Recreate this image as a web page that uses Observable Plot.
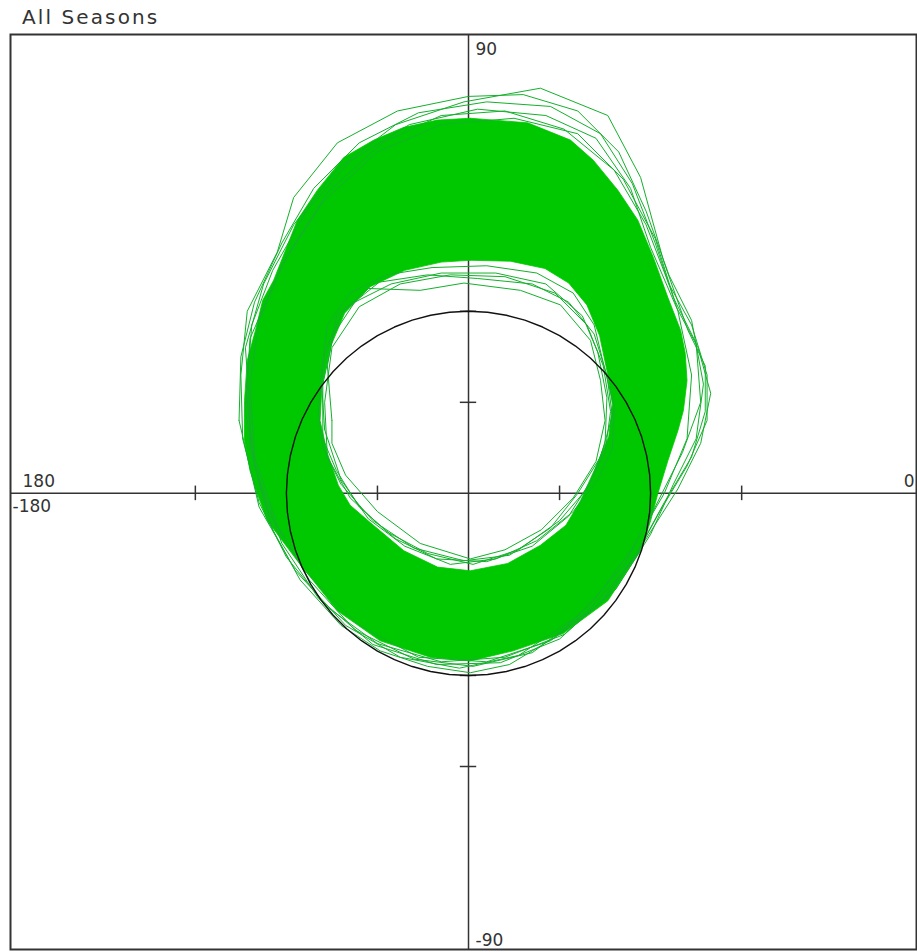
<!DOCTYPE html>
<html>
<head>
<meta charset="utf-8">
<script src="https://cdn.jsdelivr.net/npm/d3@7"></script>
<script src="https://cdn.jsdelivr.net/npm/@observablehq/plot@0.6"></script>
<style>
  html, body { margin: 0; padding: 0; background: #fff; overflow: hidden; }
  #title { position: relative; height: 30px; }
  #title span { position: absolute; left: 22px; top: 5px; font-family: "DejaVu Sans", sans-serif; font-size: 20px; letter-spacing: 2.1px; color: #333; white-space: nowrap; }
</style>
</head>
<body>
<div id="title"><span>All Seasons</span></div>
<div id="chart"></div>
<script>
// ---- Data (units: one axis tick = 1) ----
const xDomain = [-5.03, 4.92];
const yDomain = [-5.01, 5.04];
const tickValues = [-3, -2, -1, 1, 2, 3];
const refCircleRadius = 2;

const topLabels = ["90", "-90"];
const leftLabels = ["180", "-180"];
const rightLabels = ["0"];

// Outer edge of the dense green band (clockwise from top)
const outerEdge = [
  [0.02,4.12],[0.65,4.07],[1.12,3.88],[1.37,3.66],[1.64,3.33],[1.86,3.00],[2.03,2.59],[2.19,2.15],
  [2.33,1.79],[2.38,1.54],[2.40,1.24],[2.36,0.91],[2.30,0.69],[2.19,0.36],[2.08,0.00],[2.00,-0.30],
  [1.89,-0.63],[1.53,-1.18],[1.04,-1.54],[0.49,-1.73],[0.02,-1.84],[-0.42,-1.80],[-0.97,-1.62],
  [-1.44,-1.29],[-1.88,-0.74],[-2.21,-0.30],[-2.32,0.00],[-2.40,0.25],[-2.46,0.58],[-2.46,1.02],
  [-2.43,1.46],[-2.34,1.79],[-2.26,2.12],[-2.14,2.34],[-2.01,2.67],[-1.88,3.00],[-1.66,3.33],
  [-1.37,3.69],[-1.04,3.88],[-0.71,4.02],[-0.34,4.10]
];
// Inner edge (hole) of the dense green band (clockwise from top)
const innerEdge = [
  [0.02,2.56],[0.46,2.55],[0.84,2.47],[1.10,2.31],[1.30,2.07],[1.44,1.73],[1.52,1.35],[1.58,0.98],
  [1.54,0.62],[1.38,0.25],[1.23,-0.08],[1.07,-0.35],[0.79,-0.57],[0.43,-0.77],[0.02,-0.85],
  [-0.34,-0.81],[-0.71,-0.63],[-1.08,-0.32],[-1.30,-0.13],[-1.43,0.09],[-1.55,0.44],[-1.63,0.80],
  [-1.61,1.16],[-1.52,1.60],[-1.36,1.98],[-1.08,2.27],[-0.70,2.45],[-0.30,2.54]
];

// Individual stray trajectories visible at the fringes
const loop1 = [[-2.40,0.90],[-2.45,1.60],[-2.25,2.30],[-1.92,2.95],[-1.45,3.55],[-0.80,4.05],[-0.05,4.30],[0.79,4.45],[1.53,4.15],[1.89,3.47],[2.14,2.56],[2.41,1.79],[2.60,1.40],[2.60,0.90],[2.45,0.40],[2.15,-0.10],[1.85,-0.65],[1.45,-1.20],[0.90,-1.62],[0.20,-1.85],[-0.55,-1.80],[-1.20,-1.45],[-1.80,-0.85],[-2.20,-0.20],[-2.40,0.50]];
const loop2 = [[-2.48,0.60],[-2.50,1.30],[-2.43,2.00],[-2.10,2.65],[-1.92,3.25],[-1.44,3.85],[-0.78,4.20],[0.00,4.36],[0.60,4.38],[1.20,4.20],[1.65,3.75],[1.95,3.10],[2.20,2.40],[2.45,1.90],[2.58,1.20],[2.50,0.60],[2.25,0.10],[2.00,-0.45],[1.62,-1.05],[1.05,-1.55],[0.40,-1.80],[-0.30,-1.85],[-1.00,-1.65],[-1.55,-1.25],[-2.00,-0.70],[-2.30,-0.10]];
const loop3 = [[-2.30,0.10],[-2.45,0.90],[-2.40,1.70],[-2.05,2.50],[-1.60,3.20],[-1.00,3.75],[-0.30,4.05],[0.50,4.12],[1.20,3.95],[1.70,3.45],[2.05,2.80],[2.30,2.00],[2.45,1.30],[2.40,0.60],[2.15,0.00],[1.80,-0.60],[1.40,-1.15],[0.95,-1.58],[0.45,-1.88],[0.02,-1.97],[-0.45,-1.90],[-0.97,-1.73],[-1.40,-1.45],[-1.85,-0.95],[-2.15,-0.40]];
const loop4 = [[-2.35,0.40],[-2.40,1.20],[-2.30,1.90],[-2.00,2.60],[-1.55,3.30],[-0.95,3.85],[-0.30,4.15],[0.40,4.20],[1.05,4.00],[1.60,3.55],[1.95,2.95],[2.20,2.30],[2.45,1.85],[2.62,1.30],[2.62,0.80],[2.40,0.30],[2.10,-0.20],[1.80,-0.75],[1.30,-1.30],[0.70,-1.75],[0.05,-1.90],[-0.60,-1.82],[-1.25,-1.50],[-1.75,-0.95],[-2.10,-0.35]];
const loop5 = [[-1.50,0.80],[-1.55,1.40],[-1.45,1.95],[-1.10,2.25],[-0.53,2.23],[-0.05,2.31],[0.57,2.23],[1.01,2.07],[1.34,1.68],[1.45,1.24],[1.50,0.80],[1.40,0.35],[1.15,-0.05],[0.80,-0.40],[0.40,-0.62],[0.02,-0.72],[-0.53,-0.55],[-1.00,-0.20],[-1.35,0.20],[-1.50,0.55]];
const loop6 = [[-1.60,0.60],[-1.60,1.20],[-1.48,1.75],[-1.25,2.10],[-0.85,2.30],[-0.30,2.42],[0.30,2.42],[0.85,2.30],[1.25,1.95],[1.42,1.55],[1.52,1.05],[1.50,0.55],[1.35,0.15],[1.10,-0.25],[0.70,-0.58],[0.20,-0.75],[-0.35,-0.72],[-0.80,-0.50],[-1.20,-0.15],[-1.45,0.25]];
const loop7 = [[-1.55,0.40],[-1.58,1.00],[-1.50,1.60],[-1.20,2.05],[-0.75,2.30],[-0.20,2.40],[0.40,2.38],[0.95,2.20],[1.30,1.85],[1.48,1.40],[1.56,0.90],[1.50,0.45],[1.30,0.05],[1.00,-0.30],[0.55,-0.62],[0.05,-0.78],[-0.45,-0.66],[-0.90,-0.42],[-1.30,-0.05]];
const loop8 = [[-2.52,0.80],[-2.50,1.50],[-2.35,2.10],[-2.05,2.75],[-1.70,3.35],[-1.20,3.85],[-0.55,4.18],[0.20,4.30],[0.90,4.25],[1.45,3.95],[1.80,3.40],[2.05,2.75],[2.25,2.15],[2.50,1.65],[2.55,1.00],[2.35,0.45],[2.05,-0.15],[1.70,-0.80],[1.20,-1.35],[0.55,-1.78],[-0.10,-1.92],[-0.75,-1.80],[-1.35,-1.45],[-1.90,-0.85],[-2.30,-0.15]];
const loop9 = [[-2.44,1.10],[-2.38,1.85],[-2.15,2.45],[-1.78,3.10],[-1.30,3.65],[-0.65,4.05],[0.10,4.22],[0.85,4.15],[1.40,3.90],[1.78,3.35],[2.00,2.70],[2.28,2.05],[2.52,1.60],[2.66,1.10],[2.55,0.55],[2.30,0.05],[1.95,-0.50],[1.55,-1.10],[1.00,-1.60],[0.35,-1.86],[-0.35,-1.88],[-1.05,-1.66],[-1.65,-1.15],[-2.05,-0.55],[-2.35,0.30]];
const loop10 = [[-1.65,0.90],[-1.58,1.55],[-1.38,2.00],[-0.98,2.32],[-0.45,2.40],[0.10,2.36],[0.70,2.30],[1.10,2.10],[1.38,1.75],[1.52,1.30],[1.58,0.85],[1.45,0.40],[1.20,0.00],[0.90,-0.38],[0.45,-0.68],[-0.05,-0.74],[-0.60,-0.60],[-1.05,-0.30],[-1.40,0.10],[-1.60,0.50]];
const loop11 = [[-1.58,0.70],[-1.62,1.30],[-1.55,1.85],[-1.30,2.20],[-0.90,2.40],[-0.40,2.48],[0.20,2.50],[0.75,2.42],[1.15,2.20],[1.38,1.85],[1.50,1.35],[1.60,0.95],[1.58,0.50],[1.42,0.15],[1.15,-0.20],[0.75,-0.52],[0.30,-0.72],[-0.20,-0.78],[-0.70,-0.58],[-1.10,-0.28],[-1.40,0.15]];
const strayLoops = [loop1, loop2, loop3, loop4, loop5, loop6, loop7, loop8, loop9, loop10, loop11];

// ---- Derived tables ----
const bandPath = [
  ...outerEdge, outerEdge[0],
  innerEdge[0], ...innerEdge.slice(1).reverse(), innerEdge[0]
].map(([x, y]) => ({x, y}));
const strayRows = strayLoops.flatMap((pts, i) => pts.concat([pts[0]]).map(([x, y]) => ({x, y, id: i})));
const circleRows = d3.range(0, 361, 6).map(a => ({
  x: refCircleRadius * Math.cos(a * Math.PI / 180),
  y: refCircleRadius * Math.sin(a * Math.PI / 180)
}));

const labelFont = {fontFamily: "DejaVu Sans, sans-serif", fontSize: 17, fill: "#333", style: "letter-spacing:2.3px"};
const axisColor = "#333";
const green = "#00c800";

const chart = Plot.plot({
  width: 917,
  height: 922,
  marginLeft: 10,
  marginRight: 1,
  marginTop: 4,
  marginBottom: 3,
  x: {domain: xDomain, axis: null},
  y: {domain: yDomain, axis: null},
  marks: [
    Plot.ruleY([0], {stroke: axisColor, strokeWidth: 1.5}),
    Plot.ruleX([0], {stroke: axisColor, strokeWidth: 1.5}),
    Plot.ruleX(tickValues, {x: d => d, y1: -0.08, y2: 0.08, stroke: axisColor, strokeWidth: 1.5}),
    Plot.ruleY(tickValues, {y: d => d, x1: -0.09, x2: 0.09, stroke: axisColor, strokeWidth: 1.5}),
    Plot.line(bandPath, {x: "x", y: "y", fill: green, stroke: green, strokeWidth: 0.8}),
    Plot.line(strayRows, {x: "x", y: "y", z: "id", stroke: "#14b02c", strokeWidth: 1}),
    Plot.line(circleRows, {x: "x", y: "y", stroke: "#111", strokeWidth: 1.4}),
    Plot.frame({stroke: axisColor, strokeWidth: 2}),
    Plot.text([topLabels[0]], {x: 0, y: yDomain[1], text: d => d, textAnchor: "start", dx: 7, dy: 15, ...labelFont}),
    Plot.text([topLabels[1]], {x: 0, y: yDomain[0], text: d => d, textAnchor: "start", dx: 7, dy: -9, ...labelFont}),
    Plot.text([leftLabels[0]], {x: xDomain[0], y: 0, text: d => d, textAnchor: "start", dx: 12, dy: -12, ...labelFont}),
    Plot.text([leftLabels[1]], {x: xDomain[0], y: 0, text: d => d, textAnchor: "start", dx: 2, dy: 13, ...labelFont}),
    Plot.text(rightLabels, {x: xDomain[1], y: 0, text: d => d, textAnchor: "end", dx: -2, dy: -12, ...labelFont})
  ]
});
document.getElementById("chart").appendChild(chart);
</script>
</body>
</html>
